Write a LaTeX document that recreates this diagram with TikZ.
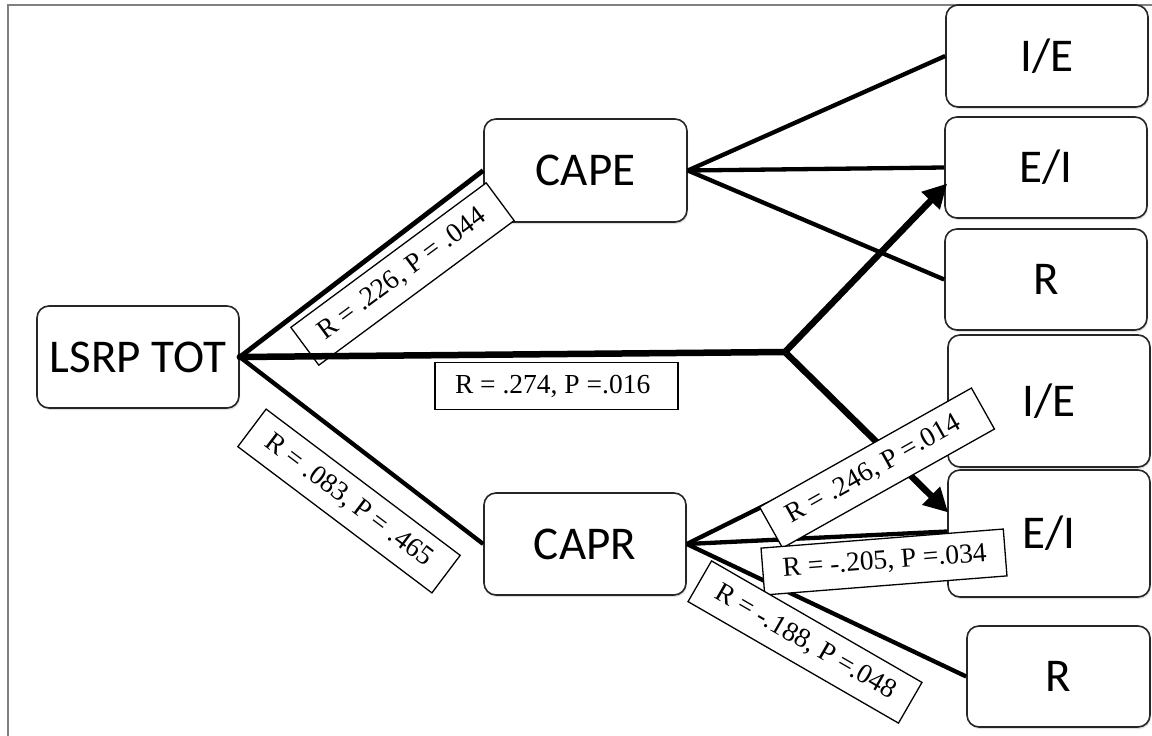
\documentclass[tikz,border=0pt]{standalone}
\usepackage{fontspec}
\setmainfont{Liberation Serif}
\newfontfamily\calfont{Carlito}
\usetikzlibrary{arrows.meta,shadows,calc}
\newcommand{\labtext}[1]{\makebox[203pt][l]{#1}}
\begin{document}
\begin{tikzpicture}[x=1pt,y=-1pt,
  box/.style={draw=black!85, line width=1.6pt, rounded corners=12pt, fill=white, inner sep=0pt,
    font=\calfont\fontsize{47}{56}\selectfont,
    drop shadow={shadow xshift=1pt,shadow yshift=-2pt,opacity=0.25}},
  edge/.style={line width=4.3pt},
  mainedge/.style={line width=6.5pt},
  arr/.style={line width=6.5pt, -{Triangle[length=24pt,width=24pt]}},
  lab/.style={draw, line width=1.3pt, fill=white, inner xsep=20pt,
    minimum height=47pt, inner ysep=0pt, font=\fontsize{27.5}{30}\selectfont}]
\useasboundingbox (0,0) rectangle (1152,736);
\draw[gray, line width=1.5pt] (8,745) -- (8,5) -- (1160,5);

% nodes
\node[box, minimum width=202pt, minimum height=102pt] (L) at (138,357) {LSRP TOT};
\node[box, minimum width=203pt, minimum height=103pt] (C) at (585.5,170.5) {CAPE};
\node[box, minimum width=202pt, minimum height=102pt] (P) at (585,544) {CAPR};
\node[box, minimum width=202pt, minimum height=102pt] (I1) at (1047,56) {I/E};
\node[box, minimum width=202pt, minimum height=101pt] (E1) at (1046,167.5) {E/I};
\node[box, minimum width=202pt, minimum height=101pt] (R1) at (1046,279.5) {R};
\node[box, minimum width=202pt, minimum height=132pt] (I2) at (1049,401) {I/E};
\node[box, minimum width=202pt, minimum height=127pt] (E2) at (1049,533.5) {E/I};
\node[box, minimum width=183pt, minimum height=101pt] (R2) at (1058.5,676.5) {R};

\coordinate (J) at (785,352);

% CAPE edges
\draw[edge] (C.east) -- (I1.west);
\draw[edge] (C.east) -- (E1.west);
\draw[edge] (C.east) -- (R1.west);
% CAPR edges
\draw[edge] (P.east) -- ($(I2.west)+(0,14)$);
\draw[edge] (P.east) -- ($(E2.west)+(0,-2)$);
\draw[edge] (P.east) -- (R2.west);
% LSRP edges
\draw[edge] (L.east) -- (P.west);

\node[lab, rotate=36.5] (l1) at (402.5,274) {\labtext{R = .226, P = .044}};
\draw[edge, line width=4.8pt] (L.east) -- (C.west);
\draw[mainedge, line cap=round] (L.east) -- (J);
\draw[arr] (J) -- ($(E1.west)+(3,16)$);
\draw[arr] (J) -- ($(E2.west)+(1,-21)$);

% labels
\node[lab] (l2) at (556.5,386) {\labtext{R = .274, P =.016}};
\node[lab, rotate=-37] (l3) at (349,501) {\labtext{R = .083, P = .465}};
\node[lab, rotate=29.3] (l4) at (877,468) {\labtext{R = .246, P =.014}};
\node[lab, rotate=4.5] (l5) at (884,562) {\labtext{R = -.205, P =.034}};
\node[lab, rotate=-30] (l6) at (805,642) {\labtext{R = -.188, P =.048}};
\end{tikzpicture}
\end{document}
